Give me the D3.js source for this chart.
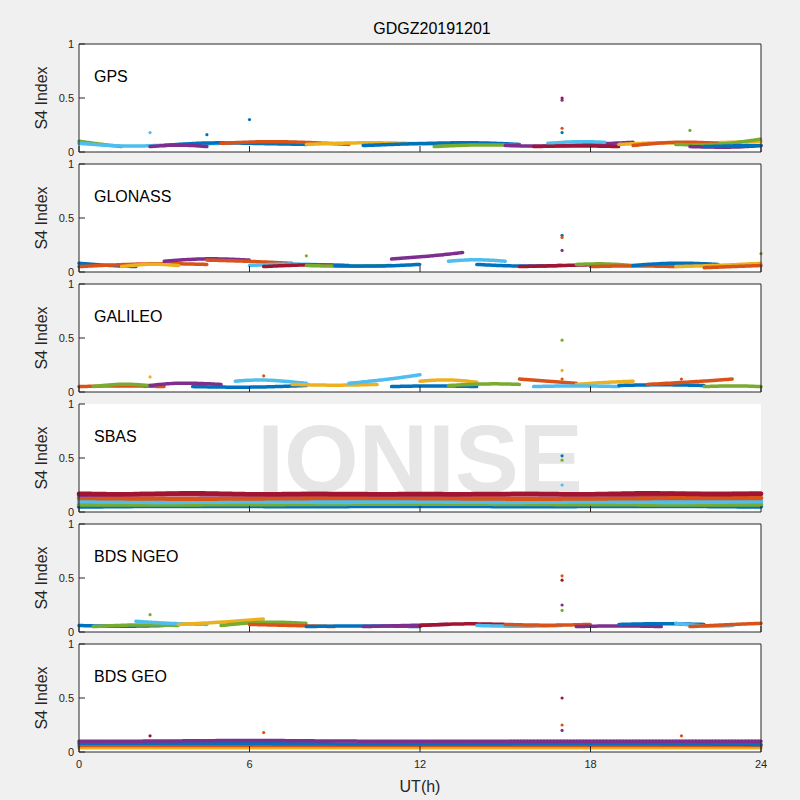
<!DOCTYPE html>
<html><head><meta charset="utf-8">
<script src="https://cdn.jsdelivr.net/npm/d3@7"></script>
<style>body{margin:0;background:#f0f0f0;}svg{font-family:Helvetica,"Liberation Sans",Arial,sans-serif;}</style>
</head><body><svg id="c" width="800" height="800"></svg>
<script>
var colors = ['#0072BD', '#D95319', '#EDB120', '#7E2F8E', '#77AC30', '#4DBEEE', '#A2142F'];
var panelNames = ['GPS', 'GLONASS', 'GALILEO', 'SBAS', 'BDS NGEO', 'BDS GEO'];
var xTicks = [0, 6, 12, 18, 24];
var yTicks = [0, 0.5, 1];

// tracks: [colorIndex, [[t, s4], ...]]
var gpsTracks = [
  [4, [[0, 0.1], [0.8, 0.07], [1.5, 0.05]]],
  [5, [[0, 0.08], [1, 0.06], [2, 0.05], [3.5, 0.07], [5, 0.08]]],
  [0, [[3, 0.06], [4.5, 0.09], [6, 0.08], [8, 0.07]]],
  [1, [[5, 0.08], [6.5, 0.1], [8, 0.09], [9.5, 0.07]]],
  [3, [[2.5, 0.05], [3.5, 0.07], [4.5, 0.05]]],
  [2, [[8, 0.07], [10, 0.09], [11.5, 0.08], [13, 0.07]]],
  [0, [[10, 0.06], [12, 0.08], [14, 0.09], [15.5, 0.07]]],
  [4, [[12.5, 0.05], [14, 0.07], [15.5, 0.06]]],
  [3, [[15, 0.06], [16.5, 0.05], [18, 0.07], [19.5, 0.09]]],
  [5, [[16.5, 0.08], [17.5, 0.1], [18.5, 0.09]]],
  [6, [[16, 0.05], [17.5, 0.06], [19, 0.05]]],
  [2, [[19, 0.07], [20.5, 0.09], [22, 0.08], [24, 0.1]]],
  [1, [[19.5, 0.06], [21, 0.1], [22.5, 0.08]]],
  [4, [[21, 0.07], [22.5, 0.06], [24, 0.12]]],
  [3, [[21.5, 0.05], [23, 0.04], [24, 0.06]]],
  [0, [[22, 0.05], [23.5, 0.06], [24, 0.06]]]
];
var gloTracks = [
  [0, [[0, 0.08], [1, 0.06], [2, 0.05]]],
  [1, [[0, 0.05], [1.5, 0.07], [3, 0.08], [4.5, 0.07]]],
  [2, [[1.5, 0.05], [2.5, 0.08], [3.5, 0.06]]],
  [3, [[3, 0.1], [4.5, 0.13], [6, 0.11]]],
  [1, [[4.5, 0.11], [6, 0.1], [7.5, 0.08]]],
  [5, [[6, 0.06], [7.5, 0.08], [9, 0.06]]],
  [6, [[6.5, 0.05], [8, 0.07], [9.5, 0.06]]],
  [4, [[8, 0.06], [9.5, 0.05], [11, 0.06]]],
  [0, [[9, 0.06], [10.5, 0.05], [12, 0.07]]],
  [3, [[11, 0.12], [12.5, 0.15], [13.5, 0.18]]],
  [5, [[13, 0.1], [14, 0.12], [15, 0.1]]],
  [0, [[14, 0.07], [15.5, 0.05], [17, 0.06]]],
  [6, [[15.5, 0.05], [17, 0.06], [18.5, 0.07]]],
  [4, [[17.5, 0.07], [18.5, 0.08], [19.5, 0.06]]],
  [1, [[18, 0.05], [19.5, 0.06], [21, 0.05]]],
  [0, [[19.5, 0.06], [21, 0.09], [22.5, 0.07]]],
  [2, [[21, 0.05], [22.5, 0.06], [24, 0.08]]],
  [1, [[22, 0.04], [23, 0.05], [24, 0.06]]]
];
var galTracks = [
  [1, [[0, 0.05], [1.5, 0.06], [3, 0.05]]],
  [4, [[0.5, 0.05], [1.5, 0.08], [2.5, 0.06]]],
  [3, [[2.5, 0.06], [3.5, 0.09], [5, 0.07]]],
  [5, [[5.5, 0.1], [6.5, 0.12], [8, 0.08]]],
  [0, [[4, 0.05], [6, 0.04], [8, 0.06]]],
  [2, [[7.5, 0.07], [9, 0.06], [10.5, 0.07]]],
  [5, [[9.5, 0.08], [11, 0.12], [12, 0.16]]],
  [0, [[11, 0.05], [12.5, 0.06], [14, 0.05]]],
  [2, [[12, 0.1], [13, 0.12], [14, 0.09]]],
  [4, [[13, 0.06], [14.5, 0.08], [15.5, 0.07]]],
  [1, [[15.5, 0.12], [16.5, 0.1], [17.5, 0.08]]],
  [2, [[17.5, 0.07], [18.5, 0.09], [19.5, 0.1]]],
  [5, [[16, 0.05], [17.5, 0.06], [19, 0.05]]],
  [0, [[19, 0.06], [20.5, 0.07], [22, 0.06]]],
  [1, [[20, 0.07], [22, 0.1], [23, 0.12]]],
  [4, [[22, 0.05], [23, 0.06], [24, 0.05]]]
];
var sbasTracks = [
  [0, [[0, 0.05], [4, 0.06], [8, 0.05], [12, 0.06], [16, 0.05], [20, 0.06], [24, 0.05]]],
  [4, [[0, 0.07], [6, 0.07], [12, 0.08], [18, 0.07], [24, 0.07]]],
  [5, [[0, 0.1], [3, 0.09], [6, 0.1], [9, 0.09], [12, 0.1], [15, 0.09], [18, 0.1], [21, 0.09], [24, 0.1]]],
  [1, [[0, 0.13], [4, 0.12], [8, 0.13], [12, 0.13], [16, 0.12], [20, 0.13], [24, 0.13]]],
  [3, [[0, 0.16], [3, 0.17], [6, 0.16], [9, 0.17], [12, 0.16], [15, 0.17], [18, 0.16], [21, 0.17], [24, 0.17]]],
  [6, [[0, 0.17], [2, 0.16], [4, 0.18], [6, 0.16], [8, 0.17], [10, 0.16], [12, 0.17], [14, 0.16], [16, 0.17], [18, 0.16], [20, 0.18], [22, 0.16], [24, 0.17]]]
];
var ngeoTracks = [
  [0, [[0, 0.06], [1.5, 0.05], [3, 0.06]]],
  [4, [[0.5, 0.05], [2, 0.07], [3.5, 0.06]]],
  [5, [[2, 0.1], [3, 0.08], [4.5, 0.07]]],
  [2, [[3.5, 0.07], [5, 0.09], [6.5, 0.12]]],
  [4, [[5, 0.06], [6.5, 0.1], [8, 0.08]]],
  [1, [[6, 0.07], [7.5, 0.06], [9, 0.05]]],
  [0, [[8, 0.05], [10, 0.06], [12, 0.05]]],
  [3, [[10, 0.05], [11.5, 0.06], [13, 0.07]]],
  [6, [[12, 0.06], [13.5, 0.08], [15, 0.07]]],
  [5, [[14, 0.06], [15.5, 0.05], [17, 0.06]]],
  [1, [[15, 0.07], [16.5, 0.06], [18, 0.07]]],
  [3, [[17.5, 0.05], [19, 0.06], [20.5, 0.05]]],
  [0, [[19, 0.07], [20.5, 0.08], [22, 0.07]]],
  [5, [[21, 0.08], [22, 0.05], [23, 0.06]]],
  [1, [[21.5, 0.05], [23, 0.07], [24, 0.08]]]
];
var geoTracks = [
  [2, [[0, 0.04], [6, 0.04], [12, 0.04], [18, 0.04], [24, 0.04]]],
  [1, [[0, 0.06], [6, 0.06], [12, 0.06], [18, 0.06], [24, 0.06]]],
  [0, [[0, 0.08], [6, 0.08], [12, 0.07], [18, 0.08], [24, 0.07]]],
  [3, [[0, 0.1], [3, 0.1], [6, 0.11], [9, 0.1], [12, 0.1], [15, 0.1], [18, 0.1], [21, 0.1], [24, 0.1]]]
];
var allTracks = [gpsTracks, gloTracks, galTracks, sbasTracks, ngeoTracks, geoTracks];

// isolated points: [t, s4, colorIndex]
var gpsSpikes = [[17, 0.5, 6], [17, 0.48, 3], [17, 0.22, 1], [17, 0.18, 0], [6, 0.3, 0], [2.5, 0.18, 5], [21.5, 0.2, 4], [4.5, 0.16, 0]];
var gloSpikes = [[17, 0.34, 0], [17, 0.32, 1], [17, 0.2, 3], [24, 0.17, 4], [8, 0.15, 4]];
var galSpikes = [[17, 0.48, 4], [17, 0.2, 2], [17, 0.12, 1], [21.2, 0.12, 1], [6.5, 0.15, 1], [2.5, 0.14, 2]];
var sbasSpikes = [[17, 0.52, 0], [17, 0.48, 4], [17, 0.25, 5]];
var ngeoSpikes = [[17, 0.52, 1], [17, 0.48, 6], [17, 0.25, 3], [17, 0.2, 4], [2.5, 0.16, 4]];
var geoSpikes = [[17, 0.5, 6], [17, 0.25, 1], [17, 0.2, 3], [2.5, 0.15, 6], [6.5, 0.18, 1], [21.2, 0.15, 1]];
var allSpikes = [gpsSpikes, gloSpikes, galSpikes, sbasSpikes, ngeoSpikes, geoSpikes];

var svg = d3.select('#c');
var left = 79, right = 761, top0 = 44, ph = 108, gap = 12;
var x = d3.scaleLinear().domain([0, 24]).range([left, right]);

svg.append('text').attr('x', 432).attr('y', 34).attr('text-anchor', 'middle')
  .attr('font-size', 16).text('GDGZ20191201');

panelNames.forEach(function(name, i) {
  var t = top0 + i * (ph + gap);
  var y = d3.scaleLinear().domain([0, 1]).range([t + ph, t]);
  var g = svg.append('g');
  g.append('rect').attr('x', left).attr('y', t).attr('width', right - left).attr('height', ph).attr('fill', '#fff');
  if (i === 3) {
    g.append('text').attr('x', 420).attr('y', t + 88).attr('text-anchor', 'middle')
      .attr('font-size', 96).attr('font-weight', 'bold').attr('fill', '#e6e6e6').text('IONISE');
  }
  var line = d3.line().x(function(d) { return x(d[0]); }).y(function(d) { return y(d[1]); }).curve(d3.curveBasis);
  allTracks[i].forEach(function(tr) {
    g.append('path').attr('d', line(tr[1])).attr('fill', 'none')
      .attr('stroke', colors[tr[0]]).attr('stroke-width', i === 3 ? 4.5 : 3.5)
      .attr('stroke-linecap', 'round').attr('stroke-dasharray', '2.5 0.8');
  });
  g.selectAll('circle.s').data(allSpikes[i]).enter().append('circle')
    .attr('cx', function(d) { return x(d[0]); }).attr('cy', function(d) { return y(d[1]); })
    .attr('r', 1.6).attr('fill', function(d) { return colors[d[2]]; });

  var frame = g.append('g').attr('stroke', '#262626').attr('fill', 'none').attr('stroke-width', 1);
  frame.append('line').attr('x1', left).attr('x2', left).attr('y1', t).attr('y2', t + ph);
  frame.append('line').attr('x1', left).attr('x2', right).attr('y1', t + ph).attr('y2', t + ph);
  if (i !== 3) {
    frame.append('line').attr('x1', left).attr('x2', right).attr('y1', t).attr('y2', t);
    frame.append('line').attr('x1', right).attr('x2', right).attr('y1', t).attr('y2', t + ph);
  }
  yTicks.forEach(function(v) {
    frame.append('line').attr('x1', left).attr('x2', left + 6).attr('y1', y(v)).attr('y2', y(v));
    g.append('text').attr('x', left - 5).attr('y', y(v) + 4).attr('text-anchor', 'end')
      .attr('font-size', 11).attr('fill', '#262626').text(v);
  });
  xTicks.forEach(function(v) {
    frame.append('line').attr('x1', x(v)).attr('x2', x(v)).attr('y1', t + ph).attr('y2', t + ph - 6);
  });
  g.append('text').attr('x', 94).attr('y', t + 38).attr('font-size', 16).attr('fill', '#000').text(name);
  g.append('text').attr('transform', 'translate(47,' + (t + ph / 2) + ') rotate(-90)')
    .attr('text-anchor', 'middle').attr('font-size', 16).attr('fill', '#262626').text('S4 Index');
});

var bottom = top0 + 5 * (ph + gap) + ph;
xTicks.forEach(function(v) {
  svg.append('text').attr('x', x(v)).attr('y', bottom + 16).attr('text-anchor', 'middle')
    .attr('font-size', 11).attr('fill', '#262626').text(v);
});
svg.append('text').attr('x', 420).attr('y', bottom + 40).attr('text-anchor', 'middle')
  .attr('font-size', 16).attr('fill', '#262626').text('UT(h)');
</script></body></html>
